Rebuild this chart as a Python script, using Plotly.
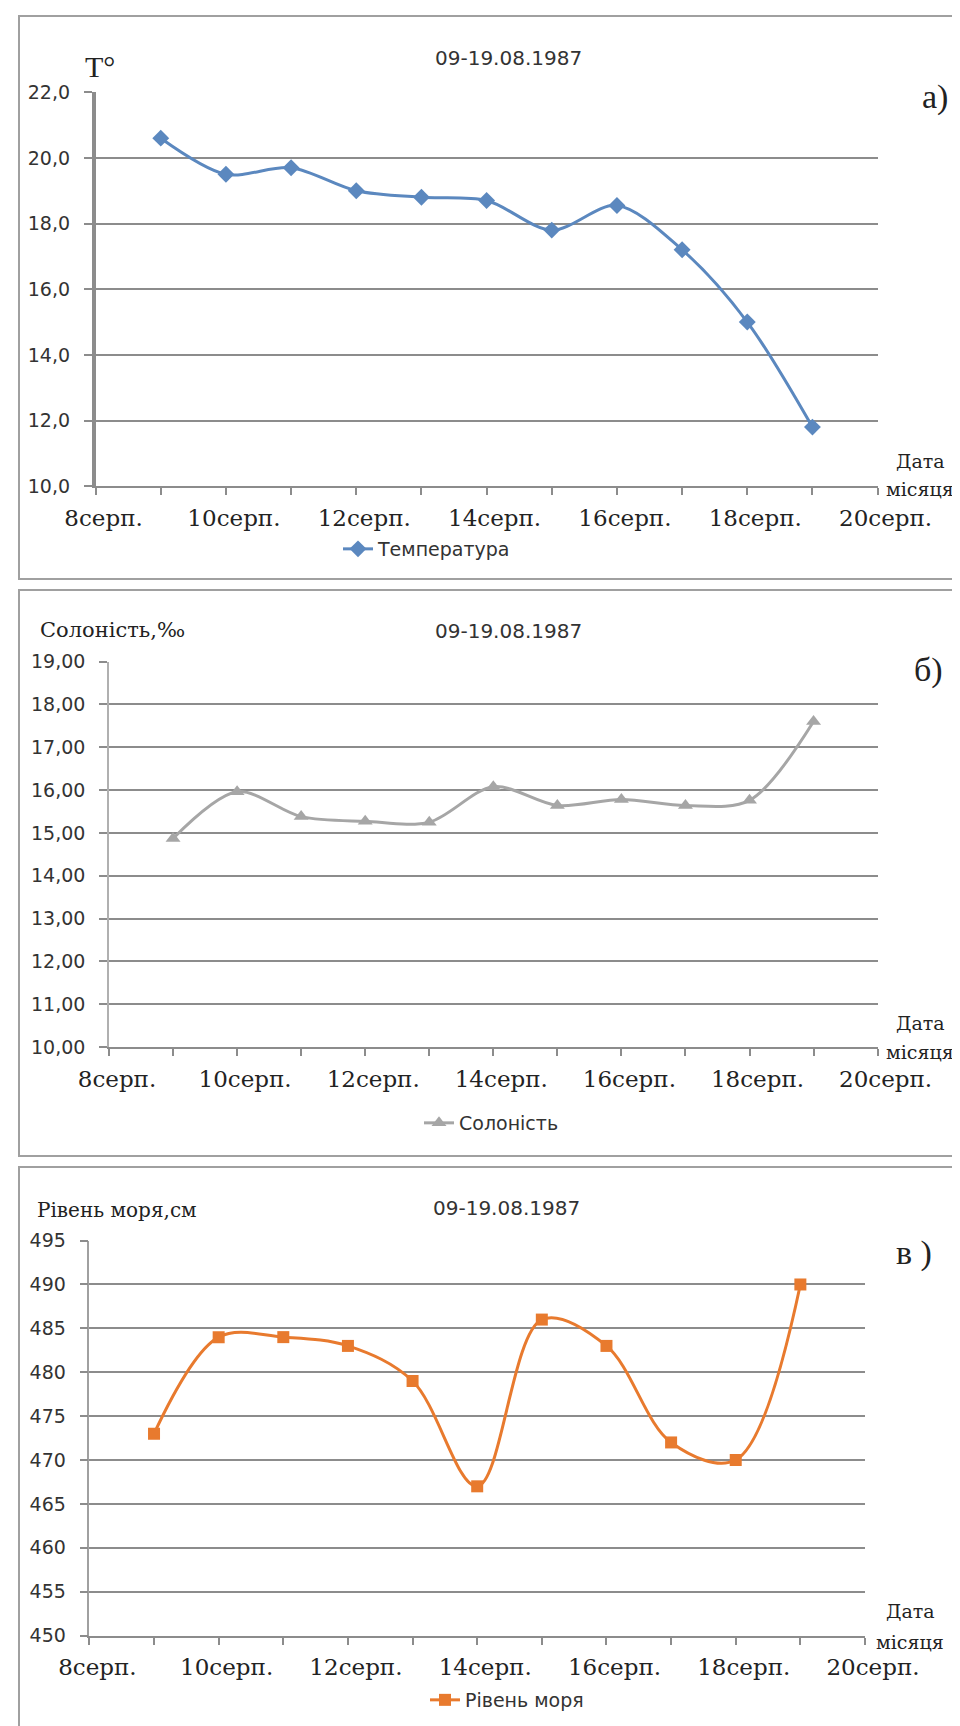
import plotly.graph_objects as go

# ---------------- data ----------------
days = [9, 10, 11, 12, 13, 14, 15, 16, 17, 18, 19]
temperature = [20.6, 19.5, 19.7, 19.0, 18.8, 18.7, 17.8, 18.55, 17.2, 15.0, 11.8]
salinity = [14.87, 15.96, 15.38, 15.27, 15.25, 16.08, 15.64, 15.78, 15.64, 15.76, 17.6]
sea_level = [473, 484, 484, 483, 479, 467, 486, 483, 472, 470, 490]

tick_days = [8, 10, 12, 14, 16, 18, 20]
tick_labels = ["8серп.", "10серп.", "12серп.", "14серп.", "16серп.", "18серп.", "20серп."]

period = "09-19.08.1987"
name_t = "Температура"
name_s = "Солоність"
name_l = "Рівень моря"

W, H = 960, 1726


def px(x):
    return x / W


def py(y):
    return 1 - y / H


GRID = "#8c8c8c"
SERIF = "DejaVu Serif"
SANS = "DejaVu Sans"

fig = go.Figure()

fig.add_trace(go.Scatter(x=days, y=temperature, name=name_t, mode="lines+markers",
                         line=dict(color="#5b88bf", width=3, shape="spline", smoothing=0.9),
                         marker=dict(symbol="diamond", size=13, color="#5b88bf"),
                         xaxis="x", yaxis="y", legend="legend"))
fig.add_trace(go.Scatter(x=days, y=salinity, name=name_s, mode="lines+markers",
                         line=dict(color="#a6a6a6", width=3, shape="spline", smoothing=0.9),
                         marker=dict(symbol="triangle-up", size=13, color="#a6a6a6"),
                         xaxis="x2", yaxis="y2", legend="legend2"))
fig.add_trace(go.Scatter(x=days, y=sea_level, name=name_l, mode="lines+markers",
                         line=dict(color="#e87a2e", width=3, shape="spline", smoothing=1.0),
                         marker=dict(symbol="square", size=12, color="#e87a2e"),
                         xaxis="x3", yaxis="y3", legend="legend3"))


def xaxis(dom, anchor):
    return dict(domain=dom, anchor=anchor, range=[8, 20], tickmode="array", automargin=False,
                tickvals=tick_days, ticktext=tick_labels, showgrid=False, zeroline=False,
                showline=True, linecolor=GRID, linewidth=2, ticks="outside", ticklen=7,
                tickcolor=GRID, tickwidth=1.5, ticklabelstandoff=3, ticklabelshift=8,
                tickfont=dict(family=SERIF, size=23, color="#222"),
                minor=dict(tickmode="linear", tick0=8, dtick=1, ticks="outside", ticklen=7,
                           tickcolor=GRID, tickwidth=1.5, showgrid=False))


def yaxis(dom, anchor, rng, dt, fmt, lw, lc):
    return dict(domain=dom, anchor=anchor, range=rng, dtick=dt, tick0=rng[0], tickformat=fmt,
                showgrid=True, gridcolor=GRID, gridwidth=2, zeroline=False, automargin=False,
                showline=True, linecolor=lc, linewidth=lw, ticks="outside", ticklen=8,
                tickcolor=GRID, tickwidth=2, ticklabelstandoff=10,
                tickfont=dict(family=SANS, size=19, color="#333"))


fig.update_layout(
    template="none",
    width=W, height=H, margin=dict(l=0, r=0, t=0, b=0, autoexpand=False),
    paper_bgcolor="white", plot_bgcolor="white", separators=", ",
    xaxis=xaxis([px(87.6), px(869.6)], "y"),
    yaxis=yaxis([py(478.2), py(84.2)], "x", [10, 22], 2, ".1f", 3.5, "#8c8c8c"),
    xaxis2=xaxis([px(101), px(869.6)], "y2"),
    yaxis2=yaxis([py(1039), py(653.6)], "x2", [10, 19], 1, ".2f", 1.5, "#b0b0b0"),
    xaxis3=xaxis([px(81.4), px(857)], "y3"),
    yaxis3=yaxis([py(1627.5), py(1232.6)], "x3", [450, 495], 5, "d", 1.5, "#a0a0a0"),
    legend=dict(x=px(330), y=py(541), xanchor="left", yanchor="middle",
                font=dict(family=SANS, size=19, color="#333"), bgcolor="rgba(0,0,0,0)"),
    legend2=dict(x=px(411), y=py(1115), xanchor="left", yanchor="middle",
                 font=dict(family=SANS, size=19, color="#333"), bgcolor="rgba(0,0,0,0)"),
    legend3=dict(x=px(417), y=py(1692), xanchor="left", yanchor="middle",
                 font=dict(family=SANS, size=19, color="#333"), bgcolor="rgba(0,0,0,0)"),
    showlegend=True,
)

# panel frames
for top, bot in [(8, 571), (582, 1148), (1159, 1724)]:
    fig.add_shape(type="rect", xref="paper", yref="paper", x0=px(11), x1=px(958),
                  y0=py(bot), y1=py(top), line=dict(color="#a0a0a0", width=2),
                  fillcolor="rgba(0,0,0,0)", layer="below")


def ann(text, x, y, size, family, xanchor="center", color="#222"):
    fig.add_annotation(text=text, x=px(x), y=py(y), xref="paper", yref="paper",
                       showarrow=False, xanchor=xanchor, yanchor="middle",
                       font=dict(family=family, size=size, color=color))


# titles
ann(period, 500, 50, 20, SANS, color="#333")
ann(period, 500, 623, 20, SANS, color="#333")
ann(period, 498, 1200, 20, SANS, color="#333")

# y labels
ann("T°", 92, 58, 30, "Liberation Serif")
ann("Солоність,‰", 30, 622, 21, SERIF, xanchor="left")
ann("Рівень моря,см", 27, 1202, 20, SERIF, xanchor="left")

# panel letters
ann("а)", 927, 89, 34, "Liberation Serif")
ann("б)", 920, 662, 34, "Liberation Serif")
ann("в )", 906, 1245, 34, "Liberation Serif")

# x-axis captions
for cx, y1, y2 in [(912, 453, 481), (912, 1015, 1044), (902, 1603, 1634)]:
    ann("Дата", cx, y1, 19, SERIF)
    ann("місяця", cx, y2, 19, SERIF)

fig.write_html("out.html")
